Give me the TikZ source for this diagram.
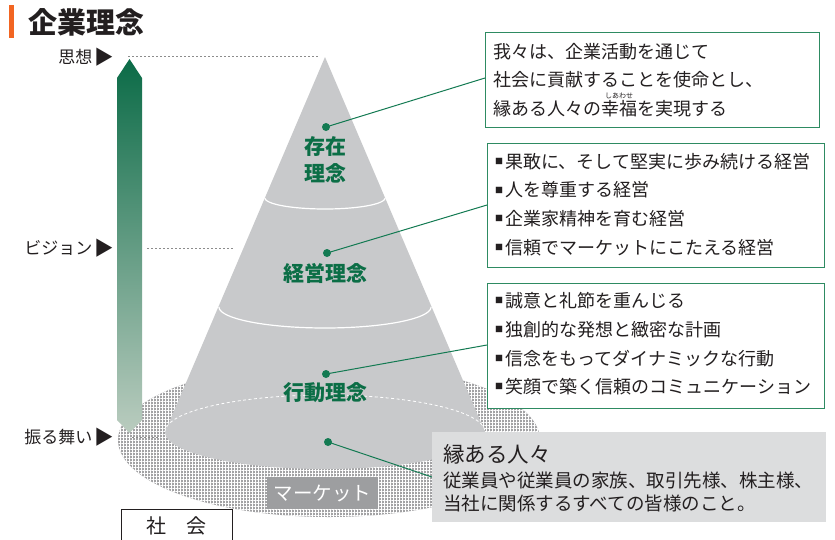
\documentclass[tikz,border=0pt]{standalone}
\usepackage{fontspec}
\setmainfont{Noto Sans CJK JP}
\usetikzlibrary{patterns.meta}
\definecolor{ink}{HTML}{231F20}
\definecolor{conegray}{HTML}{C8C9CB}
\definecolor{kgreen}{HTML}{0B6E46}
\definecolor{boxgreen}{HTML}{2E8B62}
\definecolor{linegreen}{HTML}{137A52}
\definecolor{peoplegray}{HTML}{DCDDDE}
\definecolor{marketgray}{HTML}{9D9EA0}
\definecolor{titleorange}{HTML}{F26522}
\definecolor{arrowtop}{HTML}{0B6B47}
\definecolor{arrowbot}{HTML}{BACCBF}
\definecolor{hatchgray}{HTML}{A2A2A4}
\definecolor{dotgray}{HTML}{8C8C8C}
\newcommand{\bul}{\raisebox{0.22em}{\fontsize{8}{8}\selectfont ■}\hspace{0.12em}}
\newcommand{\tri}{\hspace{2pt}\raisebox{-1pt}{\fontsize{19.5}{20}\selectfont ▶}}
\newcommand{\myruby}[2]{\leavevmode\setbox0\hbox{#1}\rlap{\smash{\raisebox{0.92em}{\hbox to \wd0{\hss\fontsize{7}{7}\selectfont #2\hss}}}}\box0}
\begin{document}
\begin{tikzpicture}[x=1pt,y=-1pt,
 every node/.style={inner sep=0pt, text=ink},
 lvl/.style={font=\fontsize{21}{27}\selectfont\bfseries, text=kgreen, align=center},
 side/.style={font=\fontsize{17}{18}\selectfont, anchor=base east},
 guide/.style={dotgray, line width=1pt, dash pattern=on 2pt off 2pt},
 sep/.style={white, line width=1.2pt},
 conn/.style={linegreen, line width=1pt},
 dot/.style={circle, fill=linegreen, minimum size=8pt},
 infobox/.style={draw=boxgreen, fill=white, line width=1pt, anchor=north west},
 boxtext/.style={font=\fontsize{18}{28.7}\selectfont, align=left, anchor=west},
]
\useasboundingbox (0,0) rectangle (835,539);

% title
\node[fill=titleorange, minimum width=5pt, minimum height=33pt, anchor=north west] (bar) at (9,5) {};
\node[anchor=west, font=\fontsize{29}{30}\selectfont\bfseries] (title) at (28,22) {企業理念};

% market (hatched ellipse)
\fill[hatchgray] (329,440) ellipse[x radius=211, y radius=77];
\fill[pattern={Lines[angle=0,distance=3pt,line width=1pt]}, pattern color=white] (329,440) ellipse[x radius=211, y radius=77];
\fill[pattern={Lines[angle=90,distance=3pt,line width=1pt]}, pattern color=white] (329,440) ellipse[x radius=211, y radius=77];

% cone
\fill[conegray] (165,432) -- (325,57) -- (485,432) -- cycle;
\fill[conegray] (325,432) ellipse[x radius=160, y radius=37];
\draw[sep] plot[domain=0:180, samples=50] ({325+60*cos(\x)},{198+11*sin(\x)});
\draw[sep] plot[domain=0:180, samples=60] ({325+106*cos(\x)},{307+21*sin(\x)});
\draw[white, line width=0.8pt, dash pattern=on 3pt off 2.5pt] plot[domain=180:360, samples=90] ({325+160*cos(\x)},{432+37*sin(\x)});

% vertical arrow
\shade[top color=arrowtop, bottom color=arrowbot] (129.5,59) -- (142,78) -- (142,420) -- (129.5,433) -- (117,420) -- (117,78) -- cycle;

% side labels and guides
\node[side] (l1) at (114,63.5) {思想\tri};
\node[side] (l2) at (114,254.5) {ビジョン\tri};
\node[side] (l3) at (114,443.5) {振る舞い\tri};
\coordinate (g1a) at (128,56); \coordinate (g1b) at (318,56);
\coordinate (g2a) at (147,248); \coordinate (g2b) at (233,248);
\coordinate (g3a) at (132,437); \coordinate (g3b) at (160,437);
\draw[guide] (g1a) -- (g1b);
\draw[guide] (g2a) -- (g2b);
\draw[guide] (g3a) -- (g3b);

% level labels
\node[lvl] (lv1) at (325,160) {存在\\理念};
\node[lvl] (lv2) at (325,273) {経営理念};
\node[lvl] (lv3) at (325,393) {行動理念};

% dots and connectors
\node[dot] (d1) at (326,127) {};
\node[dot] (d2) at (327,253) {};
\node[dot] (d3) at (326,374) {};
\node[dot] (d4) at (328,442) {};
\coordinate (e1) at (485,78);
\coordinate (e2) at (487,205);
\coordinate (e3) at (487,345);
\coordinate (e4) at (432,477);
\draw[conn] (d1.center) -- (e1);
\draw[conn] (d2.center) -- (e2);
\draw[conn] (d3.center) -- (e3);
\draw[conn] (d4.center) -- (e4);

% boxes
\node[infobox, minimum width=334pt, minimum height=95pt] (b1) at (485,32) {};
\node[boxtext] (t1) at (493,80) {我々は、企業活動を通じて\\社会に貢献することを使命とし、\\縁ある人々の\myruby{幸福}{しあわせ}を実現する};

\node[infobox, minimum width=337pt, minimum height=124pt] (b2) at (487,143) {};
\node[boxtext] (t2) at (495,204.5) {\bul 果敢に、そして堅実に歩み続ける経営\\\bul 人を尊重する経営\\\bul 企業家精神を育む経営\\\bul 信頼でマーケットにこたえる経営};

\node[infobox, minimum width=337pt, minimum height=125pt] (b3) at (487,283) {};
\node[boxtext] (t3) at (495,344) {\bul 誠意と礼節を重んじる\\\bul 独創的な発想と緻密な計画\\\bul 信念をもってダイナミックな行動\\\bul 笑顔で築く信頼のコミュニケーション};

% people box
\node[fill=peoplegray, minimum width=394pt, minimum height=90pt, anchor=north west] (pb) at (432,432) {};
\node[anchor=west, font=\fontsize{21.5}{24}\selectfont] (pt) at (443,454) {縁ある人々};
\node[anchor=west, align=left, font=\fontsize{18.5}{23}\selectfont] (pd) at (443,491.5) {従業員や従業員の家族、取引先様、株主様、\\当社に関係するすべての皆様のこと。};

% market label
\node[fill=marketgray, text=white, minimum width=111pt, minimum height=32pt, font=\fontsize{19.5}{20}\selectfont] (mk) at (322.5,493) {マーケット};

% society
\draw[ink, line width=1pt] (121,540) -- (121,509) -- (232,509) -- (232,540);
\node[font=\fontsize{20}{22}\selectfont] (sk) at (176.5,526) {社　会};
\end{tikzpicture}
\end{document}
